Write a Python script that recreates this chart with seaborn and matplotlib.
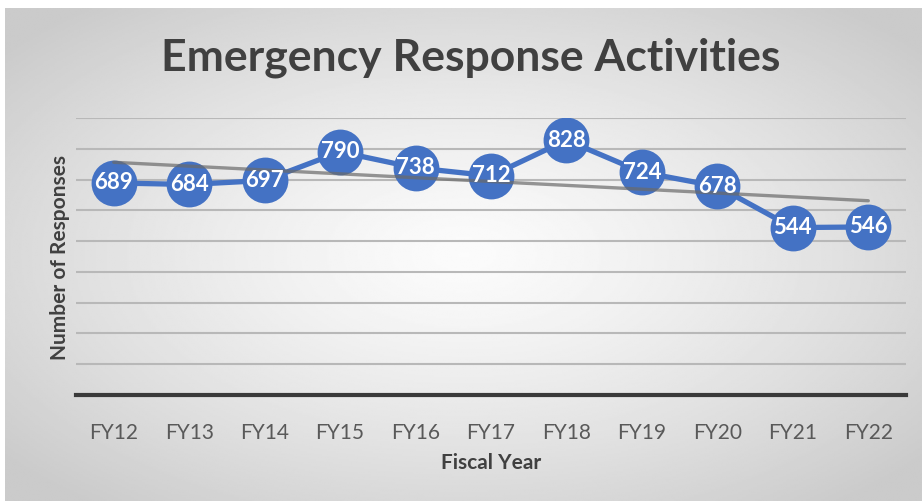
import numpy as np
import pandas as pd
import matplotlib
matplotlib.use("Agg")
import matplotlib.pyplot as plt
import seaborn as sns

years = ["FY12", "FY13", "FY14", "FY15", "FY16", "FY17", "FY18", "FY19", "FY20", "FY21", "FY22"]
responses = [689, 684, 697, 790, 738, 712, 828, 724, 678, 544, 546]
title = "Emergency Response Activities"
x_label = "Fiscal Year"
y_label = "Number of Responses"

df = pd.DataFrame({"idx": np.arange(len(years)), "year": years, "responses": responses})

sns.set_theme(style="white")
plt.rcParams["font.family"] = ["Lato", "DejaVu Sans"]

W, H = 922, 501
fig = plt.figure(figsize=(W / 100, H / 100), dpi=100)
fig.patch.set_facecolor("white")

# radial gradient background
bg = fig.add_axes([5 / W, 0, 1 - 5 / W, (H - 8) / H])
yy, xx = np.mgrid[-1:1:300j, -1:1:500j]
r = np.sqrt((xx / 1.0) ** 2 + (yy / 1.0) ** 2)
r = np.clip(r / 1.3, 0, 1)
val = 0.985 - 0.19 * r ** 1.3
bg.imshow(val, cmap="gray", vmin=0, vmax=1, aspect="auto", extent=[0, 1, 0, 1])
bg.set_axis_off()

ax = fig.add_axes([76 / W, (H - 395) / H, (906 - 76) / W, (395 - 118) / H])
ax.patch.set_alpha(0)

ax.set_ylim(0, 900)
ax.set_xlim(-0.5, len(years) - 0.5)
ax.set_yticks(np.arange(0, 901, 100))
ax.yaxis.grid(True, color="#b8b8b8", lw=1.5)
ax.set_axisbelow(True)
for s in ["top", "right", "left"]:
    ax.spines[s].set_visible(False)
ax.spines["bottom"].set_color("#3a3a3a")
ax.spines["bottom"].set_linewidth(3)
ax.tick_params(axis="y", left=False, labelleft=False)
ax.tick_params(axis="x", bottom=False, labelsize=15, labelcolor="#595959", pad=14)

sns.lineplot(data=df, x="idx", y="responses", ax=ax, color="#4472C4", lw=3.8,
             marker="o", markersize=33, markeredgewidth=0, zorder=3)

sns.regplot(data=df, x="idx", y="responses", ax=ax, scatter=False, ci=None, truncate=True,
            line_kws=dict(color="#6a6a6a", lw=2.4, alpha=0.7, zorder=4))

for i, v in zip(df["idx"], df["responses"]):
    ax.text(i, v, str(v), ha="center", va="center", color="white", fontsize=16,
            fontweight="bold", zorder=5)

ax.set_xticks(df["idx"])
ax.set_xticklabels(years)
ax.set_xlabel("")
ax.set_ylabel("")

fig.text(491 / W, 1 - 463 / H, x_label, ha="center", va="center", fontsize=15,
         fontweight="bold", color="#404040")
fig.text(60 / W, 1 - 257 / H, y_label, ha="center", va="center", rotation=90,
         fontsize=15, fontweight="bold", color="#404040")

fig.text(471 / W, 1 - 58 / H, title, ha="center", va="center", fontsize=32,
         fontweight="bold", color="#404040")

fig.savefig("out.png", dpi=100)
